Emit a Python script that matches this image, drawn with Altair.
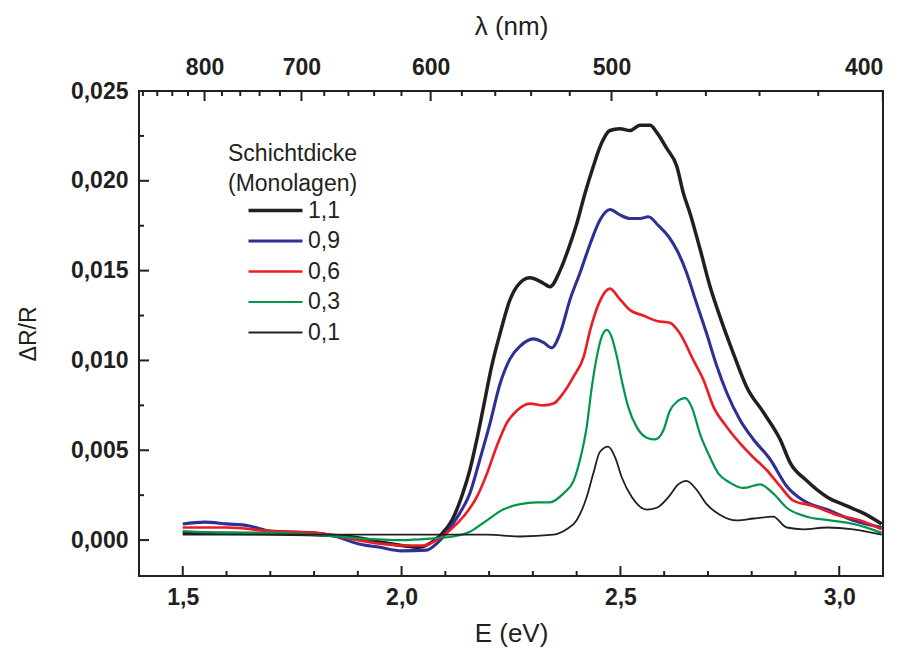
import altair as alt
import pandas as pd

# Layer thickness (monolayers) and styling of each trace
SERIES = ["1,1", "0,9", "0,6", "0,3", "0,1"]
COLORS = ["#231f20", "#2e3192", "#ed1c24", "#00964b", "#231f20"]
WIDTHS = [3.5, 1.8, 1.8, 1.8, 1.8]

# Photon energy E (eV) and ΔR/R for each layer thickness
E_11 = [1.50, 1.60, 1.70, 1.80, 1.88, 1.95, 2.00, 2.04, 2.07, 2.09, 2.115, 2.137, 2.156,
        2.172, 2.187, 2.206, 2.225, 2.248, 2.263, 2.293, 2.324, 2.339, 2.362, 2.381, 2.400,
        2.419, 2.438, 2.457, 2.476, 2.499, 2.522, 2.545, 2.568, 2.583, 2.606, 2.629, 2.644,
        2.659, 2.682, 2.705, 2.728, 2.758, 2.789, 2.827, 2.865, 2.888, 2.926, 2.972, 3.017,
        3.055, 3.097]
V_11 = [0.0004, 0.00038, 0.00035, 0.0003, 0.0002, -0.0001, -0.0003, -0.0004, -0.0001, 0.0003,
        0.0011, 0.0024, 0.0039, 0.0056, 0.0074, 0.0097, 0.0115, 0.0134, 0.0141, 0.0146, 0.0143,
        0.0141, 0.0150, 0.0162, 0.0176, 0.0193, 0.0208, 0.0221, 0.0228, 0.0229, 0.0228, 0.0231,
        0.0231, 0.0227, 0.0218, 0.0208, 0.0193, 0.0182, 0.0162, 0.0141, 0.0124, 0.0104, 0.0085,
        0.0071, 0.0056, 0.0043, 0.0033, 0.0024, 0.0019, 0.0015, 0.0009]

E_09 = [1.50, 1.55, 1.60, 1.65, 1.70, 1.80, 1.85, 1.90, 1.95, 2.00, 2.057, 2.080, 2.111,
        2.133, 2.156, 2.179, 2.202, 2.225, 2.248, 2.271, 2.301, 2.324, 2.343, 2.362, 2.385,
        2.408, 2.431, 2.453, 2.476, 2.499, 2.522, 2.545, 2.564, 2.587, 2.610, 2.632, 2.651,
        2.671, 2.697, 2.720, 2.743, 2.773, 2.804, 2.842, 2.880, 2.918, 2.972, 3.032, 3.097]
V_09 = [0.0009, 0.001, 0.0009, 0.0008, 0.0005, 0.0004, 0.0002, -0.0002, -0.0004, -0.0006,
        -0.00056, -0.0002, 0.0007, 0.0015, 0.0026, 0.0045, 0.0065, 0.0087, 0.0101, 0.0108,
        0.0112, 0.0110, 0.0107, 0.0115, 0.0134, 0.0149, 0.0165, 0.0178, 0.0184, 0.0181, 0.0179,
        0.0179, 0.0180, 0.0175, 0.0169, 0.0160, 0.0149, 0.0134, 0.0115, 0.0097, 0.0082, 0.0067,
        0.0056, 0.0045, 0.0030, 0.0022, 0.0017, 0.0011, 0.0007]

E_06 = [1.50, 1.60, 1.70, 1.80, 1.90, 1.95, 2.00, 2.05, 2.080, 2.111, 2.141, 2.172, 2.195,
        2.217, 2.240, 2.263, 2.293, 2.324, 2.347, 2.370, 2.393, 2.416, 2.431, 2.453, 2.476,
        2.499, 2.522, 2.552, 2.583, 2.613, 2.636, 2.667, 2.690, 2.713, 2.743, 2.773, 2.804,
        2.834, 2.865, 2.895, 2.941, 2.994, 3.047, 3.097]
V_06 = [0.0007, 0.0007, 0.0005, 0.0004, 0.0, -0.0002, -0.0003, -0.0003, 0.0, 0.00056, 0.0013,
        0.0024, 0.0037, 0.0052, 0.0065, 0.0072, 0.0076, 0.0075, 0.0076, 0.0082, 0.0091, 0.0102,
        0.0117, 0.0133, 0.0140, 0.0134, 0.0128, 0.0125, 0.0122, 0.0121, 0.0115, 0.0100, 0.0089,
        0.0074, 0.0063, 0.0054, 0.0046, 0.0039, 0.0030, 0.0022, 0.0019, 0.0014, 0.0011, 0.0006]

E_03 = [1.50, 1.60, 1.70, 1.80, 1.90, 2.00, 2.073, 2.118, 2.156, 2.195, 2.232, 2.271, 2.309,
        2.339, 2.370, 2.393, 2.408, 2.423, 2.434, 2.446, 2.457, 2.469, 2.480, 2.492, 2.503,
        2.518, 2.537, 2.560, 2.579, 2.598, 2.613, 2.629, 2.648, 2.663, 2.682, 2.701, 2.724,
        2.750, 2.781, 2.819, 2.849, 2.880, 2.926, 2.979, 3.032, 3.097]
V_03 = [0.0005, 0.0004, 0.0004, 0.0003, 0.0001, 0.0, 0.0001, 0.0002, 0.00046, 0.0011, 0.0017,
        0.0020, 0.0021, 0.0021, 0.0026, 0.0033, 0.0045, 0.0063, 0.0084, 0.0102, 0.0113, 0.0117,
        0.0113, 0.0102, 0.0089, 0.0074, 0.0063, 0.0057, 0.0056, 0.0061, 0.0072, 0.0077, 0.0079,
        0.0074, 0.0059, 0.0048, 0.0037, 0.0032, 0.0029, 0.0031, 0.0026, 0.0018, 0.0013, 0.0011,
        0.0009, 0.0004]

E_01 = [1.50, 1.60, 1.70, 1.80, 1.90, 2.00, 2.118, 2.195, 2.271, 2.347, 2.377, 2.400, 2.423,
        2.438, 2.453, 2.472, 2.488, 2.503, 2.526, 2.560, 2.583, 2.610, 2.632, 2.651, 2.674,
        2.697, 2.728, 2.766, 2.804, 2.849, 2.880, 2.918, 2.972, 3.032, 3.097]
V_01 = [0.0003, 0.0003, 0.0003, 0.0003, 0.0003, 0.0003, 0.0003, 0.0003, 0.0002, 0.0003, 0.0006,
        0.0011, 0.0024, 0.0037, 0.0049, 0.0052, 0.0046, 0.0035, 0.0024, 0.0017, 0.0018, 0.0024,
        0.0031, 0.0033, 0.0028, 0.0020, 0.0014, 0.0011, 0.0012, 0.0013, 0.0007, 0.0006, 0.0007,
        0.0006, 0.0003]

# Axis ticks
E_MAJOR = [1.5, 2.0, 2.5, 3.0]
E_MINOR = [1.6, 1.7, 1.8, 1.9, 2.1, 2.2, 2.3, 2.4, 2.6, 2.7, 2.8, 2.9]
LAMBDA_MAJOR = [800, 700, 600, 500, 400]
LAMBDA_MINOR = [880, 860, 840, 820, 780, 760, 740, 720, 680, 660, 640, 620,
                580, 560, 540, 520, 480, 460, 440, 420]
Y_MAJOR = [0.0, 0.005, 0.010, 0.015, 0.020, 0.025]
Y_MINOR = [0.0025, 0.0075, 0.0125, 0.0175, 0.0225]

HC = 1239.84  # eV·nm, converts wavelength to photon energy

FONT = "Liberation Sans"
INK = "#231f20"
W, H = 744, 485
TICK_FONT = 23

rows = []
for name, es, vs in zip(SERIES, [E_11, E_09, E_06, E_03, E_01],
                        [V_11, V_09, V_06, V_03, V_01]):
    for i, (e, v) in enumerate(zip(es, vs)):
        rows.append({"serie": name, "E": e, "dRR": v, "i": i})
df = pd.DataFrame(rows)

x_scale = alt.Scale(domain=[1.4, 3.1], nice=False, zero=False)
y_scale = alt.Scale(domain=[-0.002, 0.025], nice=False, zero=False)

legend = alt.Legend(
    orient="none", legendX=89, legendY=52, padding=0,
    title=["Schichtdicke", "(Monolagen)"], titleFont=FONT, titleFontSize=23,
    titleFontWeight="normal", titleColor=INK, titleLineHeight=30,
    titleAnchor="start", titlePadding=3,
    labelFont=FONT, labelFontSize=23, labelColor=INK, labelOffset=21,
    symbolType="M-3,0H3", symbolSize=324, symbolOffset=36, rowPadding=6.5,
)

lines = alt.Chart(df).mark_line(strokeJoin="round", interpolate="monotone").encode(
    x=alt.X("E:Q", scale=x_scale, axis=alt.Axis(
        orient="bottom", values=E_MAJOR, title="E (eV)",
        labelExpr="replace(format(datum.value, '.1f'), '.', ',')",
        ticks=False, tickSize=0, domain=False, grid=False,
        labelFont=FONT, labelFontSize=TICK_FONT, labelFontWeight="bold", labelColor=INK,
        labelPadding=10, titleFont=FONT, titleFontSize=26, titleFontWeight="normal",
        titleColor=INK, titlePadding=11)),
    y=alt.Y("dRR:Q", scale=y_scale, axis=alt.Axis(
        orient="left", values=Y_MAJOR, title="ΔR/R",
        labelExpr="replace(format(datum.value, '.3f'), '.', ',')",
        ticks=False, tickSize=0, domain=False, grid=False,
        labelFont=FONT, labelFontSize=TICK_FONT, labelFontWeight="bold", labelColor=INK,
        labelPadding=11, titleFont=FONT, titleFontSize=23, titleFontWeight="normal",
        titleColor=INK, titlePadding=30)),
    color=alt.Color("serie:N", scale=alt.Scale(domain=SERIES, range=COLORS), legend=legend),
    strokeWidth=alt.StrokeWidth("serie:N", scale=alt.Scale(domain=SERIES, range=WIDTHS),
                                legend=legend),
    order="i:Q",
)

# Inward tick marks on the frame
bottom_major = alt.Chart(pd.DataFrame({"E": E_MAJOR})).mark_rule(color=INK, strokeWidth=2).encode(
    x=alt.X("E:Q", scale=x_scale, axis=None), y=alt.value(H), y2=alt.value(H - 10))
bottom_minor = alt.Chart(pd.DataFrame({"E": E_MINOR})).mark_rule(color=INK, strokeWidth=2).encode(
    x=alt.X("E:Q", scale=x_scale, axis=None), y=alt.value(H), y2=alt.value(H - 5))

lam_major = pd.DataFrame({"lam": LAMBDA_MAJOR})
lam_major["E"] = HC / lam_major["lam"]
lam_minor = pd.DataFrame({"lam": LAMBDA_MINOR})
lam_minor["E"] = HC / lam_minor["lam"]

top_major = alt.Chart(lam_major).mark_rule(color=INK, strokeWidth=2).encode(
    x=alt.X("E:Q", scale=x_scale, axis=alt.Axis(
        orient="top", values=list(lam_major["E"]), title="λ (nm)",
        labelExpr=f"format({HC} / datum.value, '.0f')",
        ticks=False, tickSize=0, domain=False, grid=False,
        labelFont=FONT, labelFontSize=TICK_FONT, labelFontWeight="bold", labelColor=INK,
        labelPadding=12, titleFont=FONT, titleFontSize=26, titleFontWeight="normal",
        titleColor=INK, titlePadding=17)),
    y=alt.value(0), y2=alt.value(10))
top_minor = alt.Chart(lam_minor).mark_rule(color=INK, strokeWidth=2).encode(
    x=alt.X("E:Q", scale=x_scale, axis=None), y=alt.value(0), y2=alt.value(5))

left_major = alt.Chart(pd.DataFrame({"v": Y_MAJOR})).mark_rule(color=INK, strokeWidth=2).encode(
    y=alt.Y("v:Q", scale=y_scale, axis=None), x=alt.value(0), x2=alt.value(10))
left_minor = alt.Chart(pd.DataFrame({"v": Y_MINOR})).mark_rule(color=INK, strokeWidth=2).encode(
    y=alt.Y("v:Q", scale=y_scale, axis=None), x=alt.value(0), x2=alt.value(5))

chart = alt.layer(
    lines, bottom_major, bottom_minor, top_major, top_minor, left_major, left_minor
).resolve_axis(x="independent", y="independent").properties(
    width=W, height=H,
    autosize=alt.AutoSizeParams(type="none"),
    padding={"left": 139, "top": 91, "right": 23, "bottom": 81},
    background="white",
).configure_view(stroke=INK, strokeWidth=2)

chart.save("out.html", embed_options={"renderer": "svg", "actions": False})
